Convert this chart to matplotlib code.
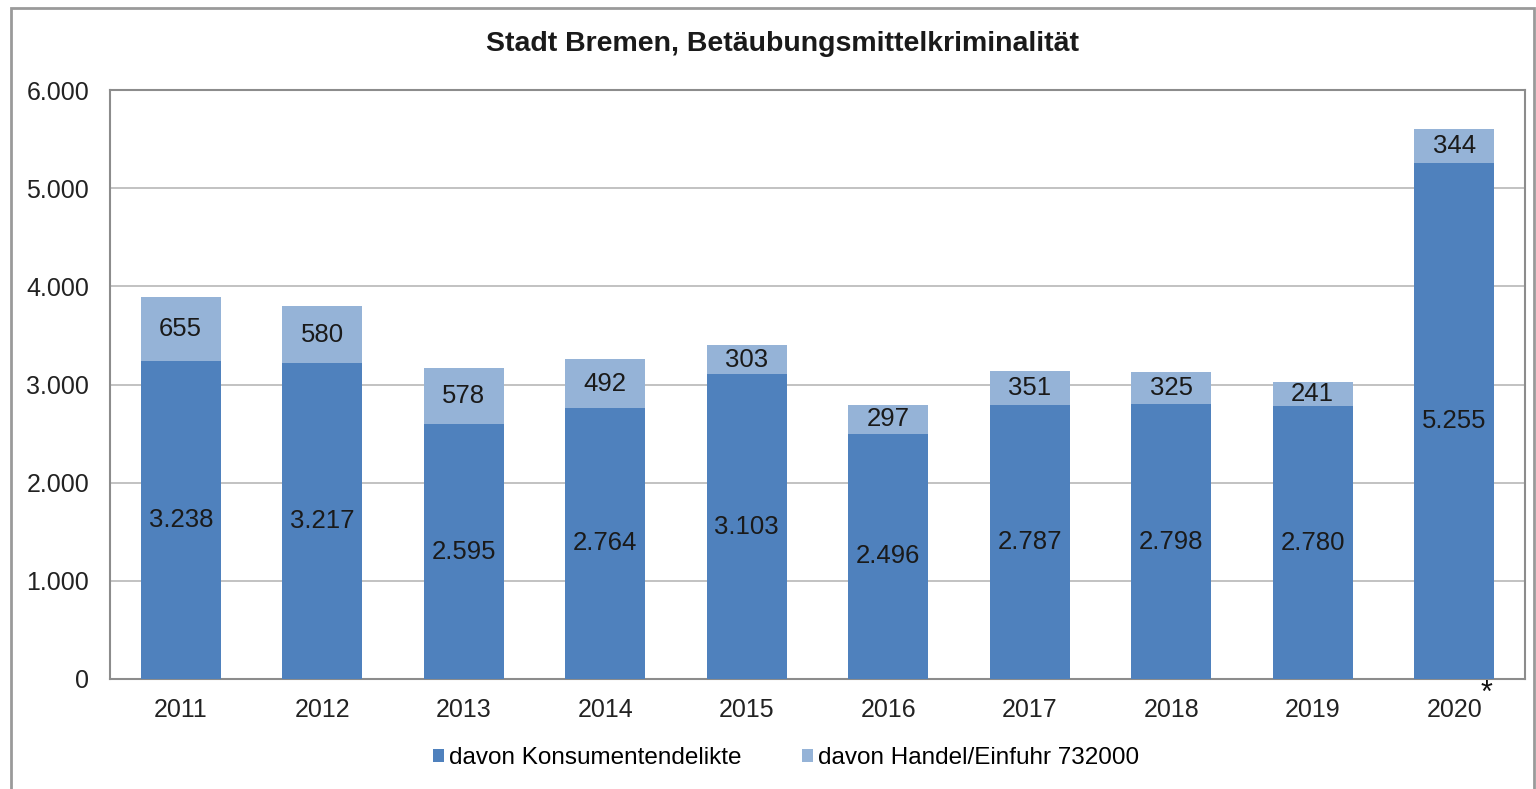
import matplotlib.pyplot as plt
from matplotlib.patches import Rectangle
import numpy as np

plt.rcParams["font.family"] = ["Liberation Sans", "DejaVu Sans"]

years = ["2011", "2012", "2013", "2014", "2015", "2016", "2017", "2018", "2019", "2020"]
konsum = [3238, 3217, 2595, 2764, 3103, 2496, 2787, 2798, 2780, 5255]
handel = [655, 580, 578, 492, 303, 297, 351, 325, 241, 344]

dark = "#4F81BD"
light = "#95B3D7"


def fmt(v):
    return f"{v:,}".replace(",", ".")


fig = plt.figure(figsize=(15.36, 7.89), dpi=100)
ax = fig.add_axes([110 / 1536, 1 - 679 / 789, 1415 / 1536, 589 / 789])

# outer chart frame
fig.patches.append(Rectangle((11 / 1536, -0.05), (1534 - 11) / 1536, 1 - 8 / 789 + 0.05,
                             transform=fig.transFigure, fill=False,
                             edgecolor="#9a9a9a", linewidth=2))

x = np.arange(len(years))
w = 0.565
ax.bar(x, konsum, width=w, color=dark, label="davon Konsumentendelikte", zorder=3)
ax.bar(x, handel, width=w, bottom=konsum, color=light,
       label="davon Handel/Einfuhr 732000", zorder=3)

for i in range(len(years)):
    ax.text(x[i], konsum[i] / 2, fmt(konsum[i]), ha="center", va="center",
            fontsize=18.5, color="#1a1a1a", zorder=4)
    ax.text(x[i], konsum[i] + handel[i] / 2, fmt(handel[i]), ha="center", va="center",
            fontsize=18.5, color="#1a1a1a", zorder=4)

ax.set_xlim(-0.5, len(years) - 0.5)
ax.set_ylim(0, 6000)
ax.set_yticks(range(0, 6001, 1000))
ax.set_yticklabels([fmt(v) for v in range(0, 6001, 1000)])
ax.set_xticks(x)
ax.set_xticklabels(years)
ax.tick_params(axis="both", length=0, labelsize=18, colors="#222222")
ax.tick_params(axis="y", pad=15)
ax.tick_params(axis="x", pad=14)
ax.grid(axis="y", color="#b8b8b8", linewidth=1.2, zorder=0)
for s in ax.spines.values():
    s.set_color("#8c8c8c")
    s.set_linewidth(1.5)

# asterisk on 2020
ax.annotate("*", xy=(x[-1], 0), xycoords="data", xytext=(23, 0),
            textcoords="offset points", fontsize=22, ha="center", va="top",
            color="#111111")

fig.text(782 / 1536, 1 - 44 / 789, "Stadt Bremen, Betäubungsmittelkriminalität",
         fontsize=20.5, fontweight="bold", ha="center", va="center", color="#1a1a1a")

ax.legend(loc="center", bbox_to_anchor=(0.478, -0.134), ncol=2, frameon=False,
          fontsize=17.5, handlelength=0.45, handleheight=0.45, handletextpad=0.2,
          columnspacing=2.5)

fig.savefig("out.png", dpi=100)
